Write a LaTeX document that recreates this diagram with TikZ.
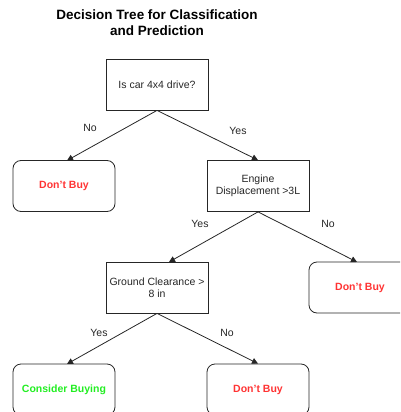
\documentclass[tikz,border=0pt]{standalone}
\usepackage{fontspec}
\setmainfont{Liberation Sans}
\usetikzlibrary{arrows.meta}
\definecolor{nored}{HTML}{FF3333}
\definecolor{yesgreen}{HTML}{22EE22}
\newcommand{\apos}{\char39\relax}
\begin{document}
\begin{tikzpicture}[x=1pt,y=-1pt,
  box/.style={draw=black!85,line width=0.8pt,minimum width=102pt,minimum height=51pt,inner sep=0pt,align=center,font=\fontsize{10.5}{12.5}\selectfont,text=black!85},
  leaf/.style={box,rounded corners=8pt,font=\bfseries\fontsize{10.5}{12.5}\selectfont},
  conn/.style={line width=0.8pt,draw=black!85,-{Triangle[length=6pt,width=6pt]}},
  lab/.style={font=\fontsize{10.5}{12.5}\selectfont,text=black!85}]
\useasboundingbox (0,0) rectangle (400,412);
\clip (0,0) rectangle (400,412);
\node[align=center,font=\bfseries\fontsize{13.5}{15.5}\selectfont] (title) at (157,22.5) {Decision Tree for Classification\\and Prediction};
\node[box] (q1) at (157,84.5) {Is car 4x4 drive?};
\node[leaf,text=nored] (d1) at (64,186) {Don\apos t Buy};
\node[box] (q2) at (258,186) {Engine\\Displacement >3L};
\node[box] (q3) at (157,287.5) {Ground Clearance >\\8 in};
\node[leaf,text=nored] (d2) at (360,287.5) {Don\apos t Buy};
\node[leaf,text=yesgreen] (c1) at (64,389.5) {Consider Buying};
\node[leaf,text=nored] (d3) at (258,389.5) {Don\apos t Buy};
\coordinate (q3in) at (169,262);
\coordinate (d1in) at (67,160.5);
\coordinate (c1in) at (67,364);
\coordinate (d2in) at (357,262);
\draw[conn] (q1.south) -- (d1in);
\draw[conn] (q1.south) -- (q2.north);
\draw[conn] (q2.south) -- (q3in);
\draw[conn] (q2.south) -- (d2in);
\draw[conn] (q3.south) -- (c1in);
\draw[conn] (q3.south) -- (d3.north);
\node[lab] (l1) at (90,128) {No};
\node[lab] (l2) at (238,131) {Yes};
\node[lab] (l3) at (200,224) {Yes};
\node[lab] (l4) at (328,224) {No};
\node[lab] (l5) at (99,333) {Yes};
\node[lab] (l6) at (227,333) {No};
\end{tikzpicture}
\end{document}
